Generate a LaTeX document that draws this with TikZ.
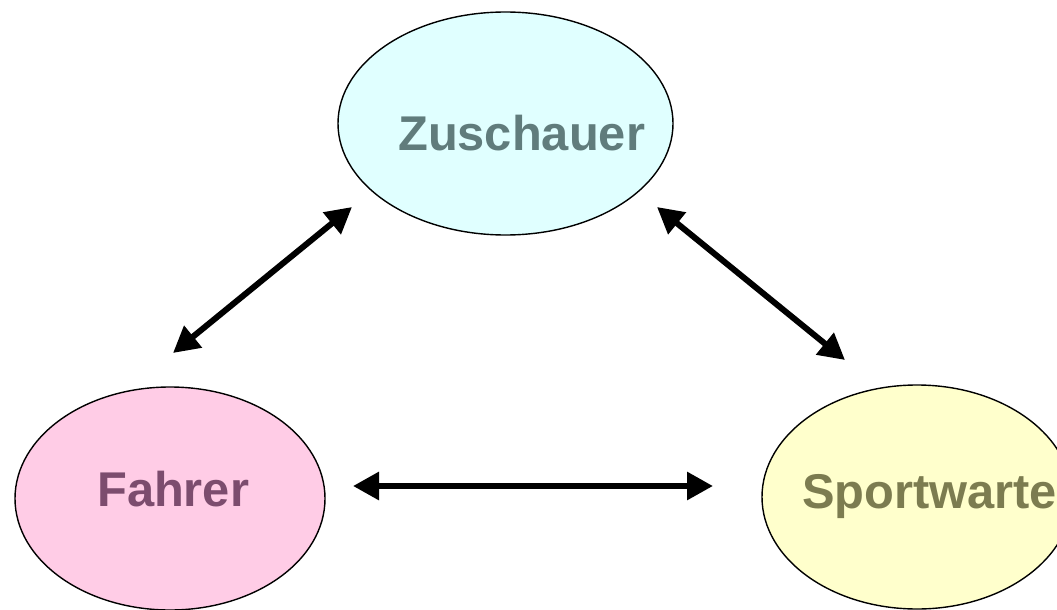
\documentclass[tikz,border=0pt]{standalone}
\usepackage{fontspec}
\setmainfont{Liberation Sans}
\usetikzlibrary{shapes.geometric,arrows.meta}
\definecolor{zfill}{RGB}{224,255,255}
\definecolor{ffill}{RGB}{255,204,230}
\definecolor{sfill}{RGB}{255,255,204}
\definecolor{ztext}{RGB}{96,124,124}
\definecolor{ftext}{RGB}{124,76,110}
\definecolor{stext}{RGB}{124,124,80}
\tikzset{
  role/.style={ellipse, draw=black, line width=1.4pt, inner sep=0pt},
  rolelabel/.style={inner sep=0pt, anchor=base west, font=\fontsize{48.8pt}{58pt}\selectfont\bfseries},
  link/.style={line width=6pt, {Triangle[length=26pt,width=27pt]}-{Triangle[length=26pt,width=27pt]}}
}
\begin{document}
\begin{tikzpicture}[x=1pt,y=-1pt]
\useasboundingbox (0,0) rectangle (1057,610);
\clip (0,0) rectangle (1057,610);
\node[role, fill=zfill, minimum width=335pt, minimum height=223pt] (Z) at (505.5,123.5) {};
\node[role, fill=ffill, minimum width=310pt, minimum height=223pt] (F) at (170,498.5) {};
\node[role, fill=sfill, minimum width=310pt, minimum height=224pt] (S) at (917,497) {};
\node[rolelabel, text=ztext] (zt) at (398,150) {Zuschauer};
\node[rolelabel, text=ftext] (ft) at (97,506) {Fahrer};
\node[rolelabel, text=stext] (st) at (802,508) {Sportwarte};
\coordinate (fz1) at (173,353);
\coordinate (fz2) at (352,207);
\coordinate (zs1) at (657,207);
\coordinate (zs2) at (845,360);
\coordinate (fs1) at (353,486);
\coordinate (fs2) at (713,486);
\draw[link] (fz1) -- (fz2);
\draw[link] (zs1) -- (zs2);
\draw[link] (fs1) -- (fs2);
\end{tikzpicture}
\end{document}
